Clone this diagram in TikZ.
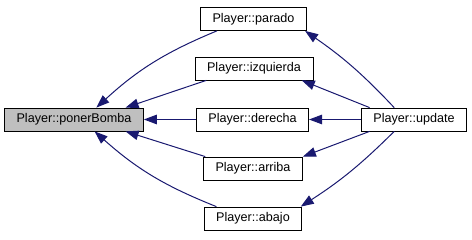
\documentclass[tikz,border=0pt]{standalone}
\usepackage{fontspec}
\setmainfont{Liberation Sans}
\usetikzlibrary{arrows.meta}
\definecolor{edgeblue}{RGB}{25,25,112}
\begin{document}
\begin{tikzpicture}[x=1pt,y=1pt,
    func/.style={draw=black,line width=0.8pt,fill=white,minimum height=23pt,
      inner xsep=12pt,font=\fontsize{12.6}{14}\selectfont},
    call/.style={edgeblue,line width=1pt,-{Triangle[length=13pt,width=9.5pt]}}]
    \useasboundingbox (0,0) rectangle (472,240);

    % Callee (highlighted)
    \node[func,fill=black!25] (poner) at (74,120.5) {Player::ponerBomba};

    % Direct callers
    \node[func] (parado) at (253.5,221) {Player::parado};
    \node[func] (izquierda) at (254,171.5) {Player::izquierda};
    \node[func] (derecha) at (252.5,120.5) {Player::derecha};
    \node[func] (arriba) at (253,71.5) {Player::arriba};
    \node[func] (abajo) at (253,21.5) {Player::abajo};

    % Top of the call chain
    \node[func] (update) at (414,120.5) {Player::update};

    % Callers -> ponerBomba
    \draw[call] (parado.-162) to[bend right=10] (poner.28);
    \draw[call] (izquierda.-166) -- (poner.13);
    \draw[call] (derecha) -- (poner);
    \draw[call] (arriba.166) -- (poner.-13.5);
    \draw[call] (abajo.162) to[bend left=10] (poner.-30);

    % update -> callers
    \draw[call] (update.149) to[bend right=6] (parado.-13);
    \draw[call] (update.165) -- (izquierda.-14);
    \draw[call] (update) -- (derecha);
    \draw[call] (update.-165) -- (arriba.north east);
    \draw[call] (update.-149) to[bend left=6] (abajo.14);
\end{tikzpicture}
\end{document}
